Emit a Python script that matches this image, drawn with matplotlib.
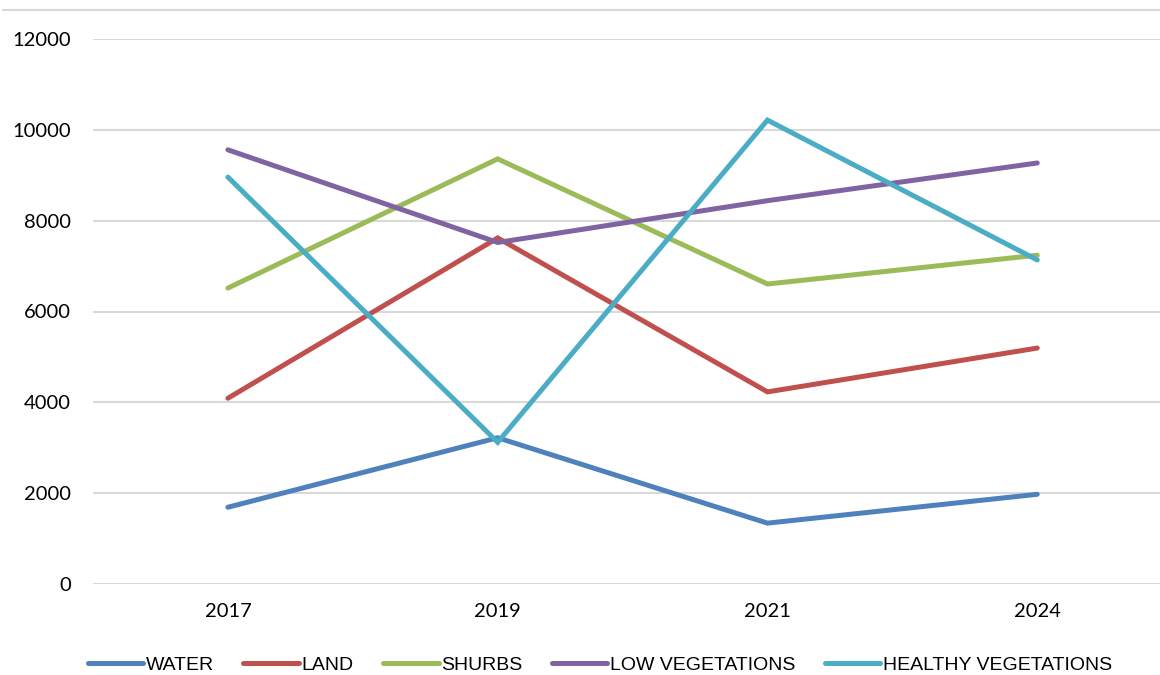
import matplotlib.pyplot as plt
from matplotlib.lines import Line2D

# data
years = ['2017', '2019', '2021', '2024']
water = [1690, 3220, 1340, 1975]
land = [4090, 7620, 4230, 5195]
shurbs = [6515, 9360, 6605, 7240]
low_veg = [9560, 7520, 8440, 9270]
healthy_veg = [8960, 3120, 10215, 7135]

series = [
    ('WATER', water, '#4F81BD'),
    ('LAND', land, '#C0504D'),
    ('SHURBS', shurbs, '#9BBB59'),
    ('LOW VEGETATIONS', low_veg, '#8064A2'),
    ('HEALTHY VEGETATIONS', healthy_veg, '#4BACC6'),
]

fig = plt.figure(figsize=(11.6, 6.75), dpi=100)
ax = fig.add_axes([93 / 1160, 1 - 584 / 675, 1 - 93 / 1160, (584 - 39) / 675])

x = range(len(years))
for name, vals, col in series:
    ax.plot(x, vals, color=col, lw=3.6, label=name,
            solid_capstyle='round', solid_joinstyle='miter')

ax.set_ylim(0, 12000)
ax.set_xlim(-0.5, 3.455)
ax.set_yticks(range(0, 12001, 2000))
ax.set_xticks(list(x))
ax.set_xticklabels(years)
ax.grid(axis='y', color='#d9d9d9', lw=1.5)
ax.set_axisbelow(True)
for s in ax.spines.values():
    s.set_visible(False)
ax.tick_params(length=0, labelsize=14.5, colors='#000000')
ax.tick_params(axis='y', pad=16)
ax.tick_params(axis='x', pad=14)
for lab in ax.get_xticklabels() + ax.get_yticklabels():
    lab.set_fontfamily('Lato')

# chart area border at the top
fig.add_artist(Line2D([3 / 1160, 1], [1 - 10 / 675, 1 - 10 / 675],
                      transform=fig.transFigure, color='#d9d9d9', lw=1.5))

fig.legend(loc='center', bbox_to_anchor=(600 / 1160, 1 - 665 / 675), ncol=5,
           frameon=False, handlelength=2.85, handletextpad=0.15, columnspacing=1.5,
           prop={'family': 'Liberation Sans', 'size': 14})

fig.savefig('out.png', dpi=100)
